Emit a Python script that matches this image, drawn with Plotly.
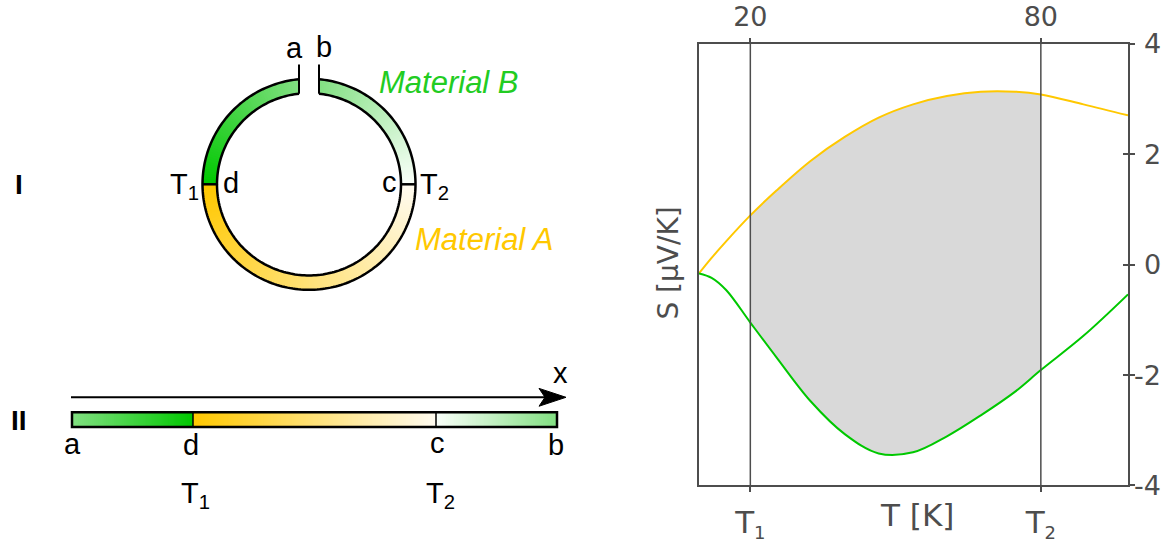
import math
import plotly.graph_objects as go

W, H = 1174, 543

# Seebeck coefficient S (µV/K) of the two materials versus temperature T (K)
temperature = [9.4, 12, 15, 20, 25.4, 32.5, 39.5, 46.5, 53.6, 60.6, 67.6, 74.7, 80, 88.8, 98]
seebeck_a = [-0.16, 0.12, 0.42, 0.89, 1.34, 1.88, 2.31, 2.66, 2.90, 3.05, 3.13, 3.13, 3.08, 2.90, 2.70]
seebeck_b = [-0.16, -0.24, -0.46, -1.05, -1.68, -2.48, -3.07, -3.42, -3.40, -3.11, -2.73, -2.30, -1.91, -1.29, -0.54]

# junction temperatures T1, T2 and axis labelling
junction_temps = [20, 80]
top_tick_text = ["20", "80"]
bottom_tick_text = ["T<sub><span style='font-size:18px'>1</span></sub>",
                    "T<sub><span style='font-size:18px'>2</span></sub>"]
s_ticks = [-4, -2, 0, 2, 4]
s_tick_text = ["-4", "-2", "0", "2", "4"]

YELLOW = "#FFC800"
GREEN = "#00C800"
AXIS = "#4d4d4d"
FILL = "#D9D9D9"

LIGHT_GREEN = (130, 224, 130)
SAT_GREEN = (0, 200, 0)
SAT_YELLOW = (255, 200, 0)
PALE_YELLOW = (255, 251, 240)
WHITE_GREEN = (250, 255, 250)


def lerp(c0, c1, t):
    return tuple(c0[i] + (c1[i] - c0[i]) * t for i in range(3))


def rgb(c):
    return "rgb(%d,%d,%d)" % tuple(round(v) for v in c)


fig = go.Figure()

# ---------------- right panel: S(T) curves ----------------
i1 = temperature.index(junction_temps[0])
i2 = temperature.index(junction_temps[1])
fig.add_trace(go.Scatter(x=temperature[i1:i2 + 1], y=seebeck_b[i1:i2 + 1], mode="lines",
                         line=dict(width=0, shape="spline", color=FILL), hoverinfo="skip",
                         showlegend=False))
fig.add_trace(go.Scatter(x=temperature[i1:i2 + 1], y=seebeck_a[i1:i2 + 1], mode="lines",
                         line=dict(width=0, shape="spline", color=FILL), fill="tonexty",
                         fillcolor=FILL, hoverinfo="skip", showlegend=False))
fig.add_trace(go.Scatter(x=temperature, y=seebeck_a, mode="lines", name="Material A",
                         line=dict(color=YELLOW, width=2, shape="spline"), showlegend=False))
fig.add_trace(go.Scatter(x=temperature, y=seebeck_b, mode="lines", name="Material B",
                         line=dict(color=GREEN, width=2, shape="spline"), showlegend=False))
# carrier trace so the top temperature axis and inner tick marks are drawn
fig.add_trace(go.Scatter(x=junction_temps, y=[0, 0], xaxis="x3", yaxis="y3", mode="lines",
                         line=dict(width=0), hoverinfo="skip", showlegend=False))

shapes = []
for t in junction_temps:
    shapes.append(dict(type="line", xref="x", yref="y", x0=t, x1=t, y0=-4, y1=4,
                       line=dict(color=AXIS, width=1.5), layer="above"))

annotations = []
for v, txt in zip(s_ticks, s_tick_text):
    annotations.append(dict(xref="paper", yref="y", x=1163 / W, y=v, text=txt, showarrow=False,
                            xanchor="right", yanchor="middle",
                            font=dict(family="DejaVu Sans", size=27, color=AXIS)))
annotations.append(dict(xref="x", yref="paper", x=54.4, y=(H - 520) / H, text="T [K]",
                        showarrow=False, xanchor="center", yanchor="middle",
                        font=dict(family="DejaVu Sans", size=31, color=AXIS)))
annotations.append(dict(xref="paper", yref="paper", x=669 / W, y=(H - 266) / H, text="S [μV/K]",
                        showarrow=False, textangle=-90, xanchor="center", yanchor="middle",
                        font=dict(family="DejaVu Sans", size=28, color=AXIS)))

# ---------------- left panel: thermocouple ring and unrolled bar ----------------
L = dict(xref="x2", yref="y2")
cx, cy = 309.0, 186.0
r_out, r_in = 106.5, 92.0
gap = 10.0


def ring_pt(r, ang):
    return cx - r * math.sin(ang), cy - r * math.cos(ang)


def ring_segment(ao0, ao1, ai0, ai1, c0, c1, n):
    for k in range(n):
        t0, t1 = k / n, min(1.0, (k + 1.6) / n)
        p1 = ring_pt(r_out, ao0 + (ao1 - ao0) * t0)
        p2 = ring_pt(r_out, ao0 + (ao1 - ao0) * t1)
        p3 = ring_pt(r_in, ai0 + (ai1 - ai0) * t1)
        p4 = ring_pt(r_in, ai0 + (ai1 - ai0) * t0)
        col = rgb(lerp(c0, c1, (k + 0.5) / n))
        path = "M%.2f,%.2f L%.2f,%.2f L%.2f,%.2f L%.2f,%.2f Z" % (*p1, *p2, *p3, *p4)
        shapes.append(dict(type="path", path=path, fillcolor=col, line=dict(width=0), **L))


q = math.pi / 2
ao_a, ai_a = math.asin(gap / r_out), math.asin(gap / r_in)
ring_segment(ao_a, q, ai_a, q, LIGHT_GREEN, SAT_GREEN, 60)                      # a -> d
ring_segment(q, 3 * q, q, 3 * q, SAT_YELLOW, PALE_YELLOW, 120)                  # d -> c
ring_segment(3 * q, 4 * q - ao_a, 3 * q, 4 * q - ai_a, WHITE_GREEN, LIGHT_GREEN, 60)  # c -> b


def arc_path(r, a0, a1, n=240):
    pts = [ring_pt(r, a0 + (a1 - a0) * k / n) for k in range(n + 1)]
    return "M" + " L".join("%.2f,%.2f" % p for p in pts)


black = dict(color="black", width=2.5)
shapes.append(dict(type="path", path=arc_path(r_out, ao_a, 4 * q - ao_a), line=black, **L))
shapes.append(dict(type="path", path=arc_path(r_in, ai_a, 4 * q - ai_a), line=black, **L))
y_in_end = cy - math.sqrt(r_in ** 2 - gap ** 2)
for sx in (-1, 1):
    shapes.append(dict(type="line", x0=cx + sx * gap, x1=cx + sx * gap, y0=y_in_end, y1=65,
                       line=dict(color="black", width=2), **L))
shapes.append(dict(type="line", x0=cx - r_out, x1=cx - r_in, y0=cy, y1=cy, line=black, **L))
shapes.append(dict(type="line", x0=cx + r_in, x1=cx + r_out, y0=cy, y1=cy, line=black, **L))

# unrolled bar a - d - c - b
bx = [72.0, 193.0, 436.0, 557.0]
by0, by1 = 416.0, 431.0
bar_colors = [(LIGHT_GREEN, SAT_GREEN), (SAT_YELLOW, PALE_YELLOW), (WHITE_GREEN, LIGHT_GREEN)]
for s in range(3):
    xa, xb = bx[s], bx[s + 1]
    n = int((xb - xa) / 2)
    for k in range(n):
        x0 = xa + (xb - xa) * k / n
        x1 = min(xb, xa + (xb - xa) * (k + 1.6) / n)
        col = rgb(lerp(bar_colors[s][0], bar_colors[s][1], (k + 0.5) / n))
        shapes.append(dict(type="rect", x0=x0, x1=x1, y0=by0, y1=by1, fillcolor=col,
                           line=dict(width=0), **L))
shapes.append(dict(type="rect", x0=bx[0], x1=bx[3], y0=by0, y1=by1, line=black, **L))
for xd in bx[1:3]:
    shapes.append(dict(type="line", x0=xd, x1=xd, y0=by0, y1=by1,
                       line=dict(color="black", width=1.5), **L))

# x-direction arrow
shapes.append(dict(type="line", x0=71, x1=548, y0=401, y1=401,
                   line=dict(color="black", width=2), **L))
shapes.append(dict(type="path", path="M566,401 L539,392 L545,401 L539,410 Z",
                   fillcolor="black", line=dict(color="black", width=1), **L))

LF = "Liberation Sans"


def label(x, y, text, size=29, color="black", xanchor="center", **font_extra):
    annotations.append(dict(x=x, y=y, text=text, showarrow=False, xanchor=xanchor,
                            yanchor="middle", font=dict(family=LF, size=size, color=color,
                                                        **font_extra), **L))


label(294, 48, "a")
label(324, 47, "b")
label(201, 188, "T<sub>1</sub>", xanchor="right")
label(231, 185, "d")
label(389, 184, "c")
label(418, 188, "T<sub>2</sub>", xanchor="left")
label(377, 83, "Material B", size=31, color="#22CC22", xanchor="left", style="italic")
label(413, 242, "Material A", size=31, color=YELLOW, xanchor="left", style="italic")
label(19, 186, "<b>I</b>", size=28)
label(19, 424, "<b>II</b>", size=28)
label(72, 448, "a")
label(191, 449, "d")
label(437, 447, "c")
label(556, 449, "b")
label(560, 376, "x")
label(195, 500, "T<sub>1</sub>")
label(440, 500, "T<sub>2</sub>")

x_dom = [699 / W, 1128 / W]
y_dom = [(H - 490) / H, (H - 44) / H]
x_range = [temperature[0], temperature[-1]]

fig.update_layout(
    width=W, height=H,
    margin=dict(l=0, r=0, t=0, b=0),
    paper_bgcolor="white", plot_bgcolor="white",
    showlegend=False,
    shapes=shapes,
    annotations=annotations,
    xaxis=dict(domain=x_dom, range=x_range, anchor="y", side="bottom",
               tickmode="array", tickvals=junction_temps, ticktext=bottom_tick_text,
               ticks="outside", ticklen=5, tickwidth=1.5, tickcolor=AXIS,
               tickfont=dict(family="DejaVu Sans", size=31, color=AXIS),
               ticklabelstandoff=3,
               showline=True, linecolor=AXIS, linewidth=2, mirror=True,
               showgrid=False, zeroline=False, fixedrange=True),
    xaxis3=dict(overlaying="x", range=x_range, anchor="y3", side="top",
                tickmode="array", tickvals=junction_temps, ticktext=top_tick_text,
                ticks="outside", ticklen=5, tickwidth=1.5, tickcolor=AXIS,
                tickfont=dict(family="DejaVu Sans", size=27, color=AXIS),
                ticklabelstandoff=1,
                showline=False, showgrid=False, zeroline=False, fixedrange=True),
    yaxis=dict(domain=y_dom, range=[-4, 4], anchor="x", side="right",
               tickmode="array", tickvals=s_ticks, showticklabels=False,
               ticks="outside", ticklen=5, tickwidth=1.5, tickcolor=AXIS,
               showline=True, linecolor=AXIS, linewidth=2, mirror=True,
               showgrid=False, zeroline=False, fixedrange=True),
    yaxis3=dict(overlaying="y", range=[-4, 4], anchor="x3", side="right",
                tickmode="array", tickvals=s_ticks, showticklabels=False,
                ticks="inside", ticklen=5, tickwidth=1.5, tickcolor=AXIS,
                showline=False, showgrid=False, zeroline=False, fixedrange=True),
    xaxis2=dict(domain=[0, 640 / W], range=[0, 640], anchor="y2", visible=False,
                fixedrange=True),
    yaxis2=dict(domain=[0, 1], range=[H, 0], anchor="x2", visible=False, fixedrange=True),
)

fig.write_html("out.html")
